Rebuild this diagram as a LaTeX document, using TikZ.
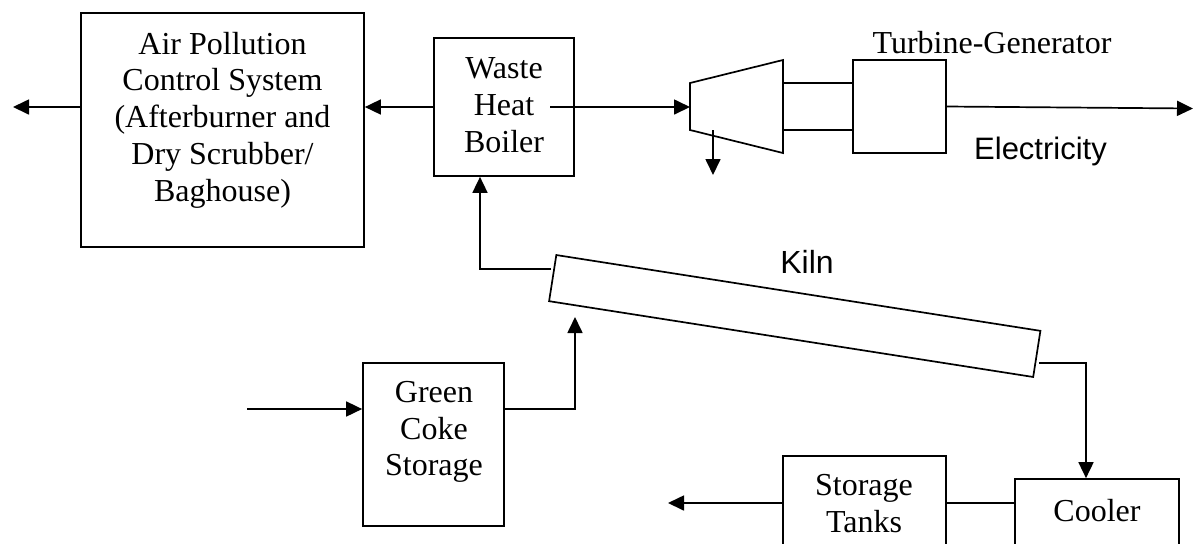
\documentclass[tikz,border=0pt]{standalone}
\usepackage{fontspec}
\setmainfont{Liberation Serif}
\setsansfont{Liberation Sans}
\usetikzlibrary{positioning,arrows.meta}

\begin{document}
\begin{tikzpicture}[x=0.5pt, y=-0.5pt, line width=0.85pt, >={Triangle[length=8pt,width=7.5pt]}, font=\fontsize{16pt}{18.4pt}\selectfont]
	\tikzstyle{unit} = [draw, inner sep=0pt]
	\tikzstyle{txt} = [align=center, inner sep=0pt]
	\useasboundingbox (0,0) rectangle (1194,543);
	\clip (0,0) rectangle (1194,543);
	% boxes
	\node[unit, minimum width=141.5pt, minimum height=117pt](apc) at (222.5,130){};
	\node[txt](apct) at (222.5,120){Air Pollution\\Control System\\(Afterburner and\\Dry Scrubber/\\Baghouse)};
	\node[unit, minimum width=70pt, minimum height=69pt](whb) at (504,107){};
	\node[txt](whbt) at (504,105){Waste\\Heat\\Boiler};
	\node[unit, minimum size=46.5pt](gen) at (899.5,106.5){};
	\node[txt](tg) at (992,43){Turbine-Generator};
	\node[txt, font=\sffamily\fontsize{15.5pt}{18pt}\selectfont](elec) at (1040.5,151){Electricity};
	\node[unit, minimum width=245pt, minimum height=23.35pt, rotate=-8.9](kiln) at (794.75,316){};
	\node[txt, font=\sffamily\fontsize{16pt}{18.4pt}\selectfont](kilnt) at (807,261.5){Kiln};
	\node[unit, minimum width=70.5pt, minimum height=81.5pt](coke) at (433.5,444.5){};
	\node[txt](coket) at (434,432){Green\\Coke\\Storage};
	\node[unit, minimum width=81.5pt, minimum height=62pt](tank) at (864.5,518){};
	\node[txt](tankt) at (864,503.5){Storage\\Tanks};
	\node[unit, minimum width=82pt, minimum height=50.5pt](cool) at (1097,529.5){};
	\node[txt](coolt) at (1097,511){Cooler};
	% turbine
	\draw (690,83) -- (783,60) -- (783,153) -- (690,130) -- cycle;
	\draw (783,83) -- (gen.west |- 783,83);
	\draw (783,130) -- (gen.west |- 783,130);
	% loose ends
	\coordinate (stack) at (13,107);
	\coordinate (heat) at (550,107);
	\coordinate (turb) at (690,107);
	\coordinate (tout) at (713,130);
	\coordinate (exh) at (713,175);
	\coordinate (grid) at (1193,108.5);
	\coordinate (kin) at (551,269);
	\coordinate (kfeed) at (575,317);
	\coordinate (kout) at (1039,363);
	\coordinate (feed) at (247,409);
	\coordinate (prod) at (668,503);
	% flows
	\draw[->](apc.west |- whb.west) -- (stack);
	\draw[->](whb.west) -- (whb.west -| apc.east);
	\draw[->](heat) -- (turb);
	\draw[->](tout) -- (exh);
	\draw[->](gen.east) -- (grid);
	\draw[->](kin) -| ([xshift=-12pt]whb.south);
	\draw[->](feed) -- (feed -| coke.west);
	\draw[->]([yshift=17.75pt]coke.east) -| (kfeed);
	\draw[->](kout) -| ([xshift=-5.5pt]cool.north);
	\draw(cool.west |- prod) -- (tank.east |- prod);
	\draw[->](tank.west |- prod) -- (prod);
\end{tikzpicture}
\end{document}
